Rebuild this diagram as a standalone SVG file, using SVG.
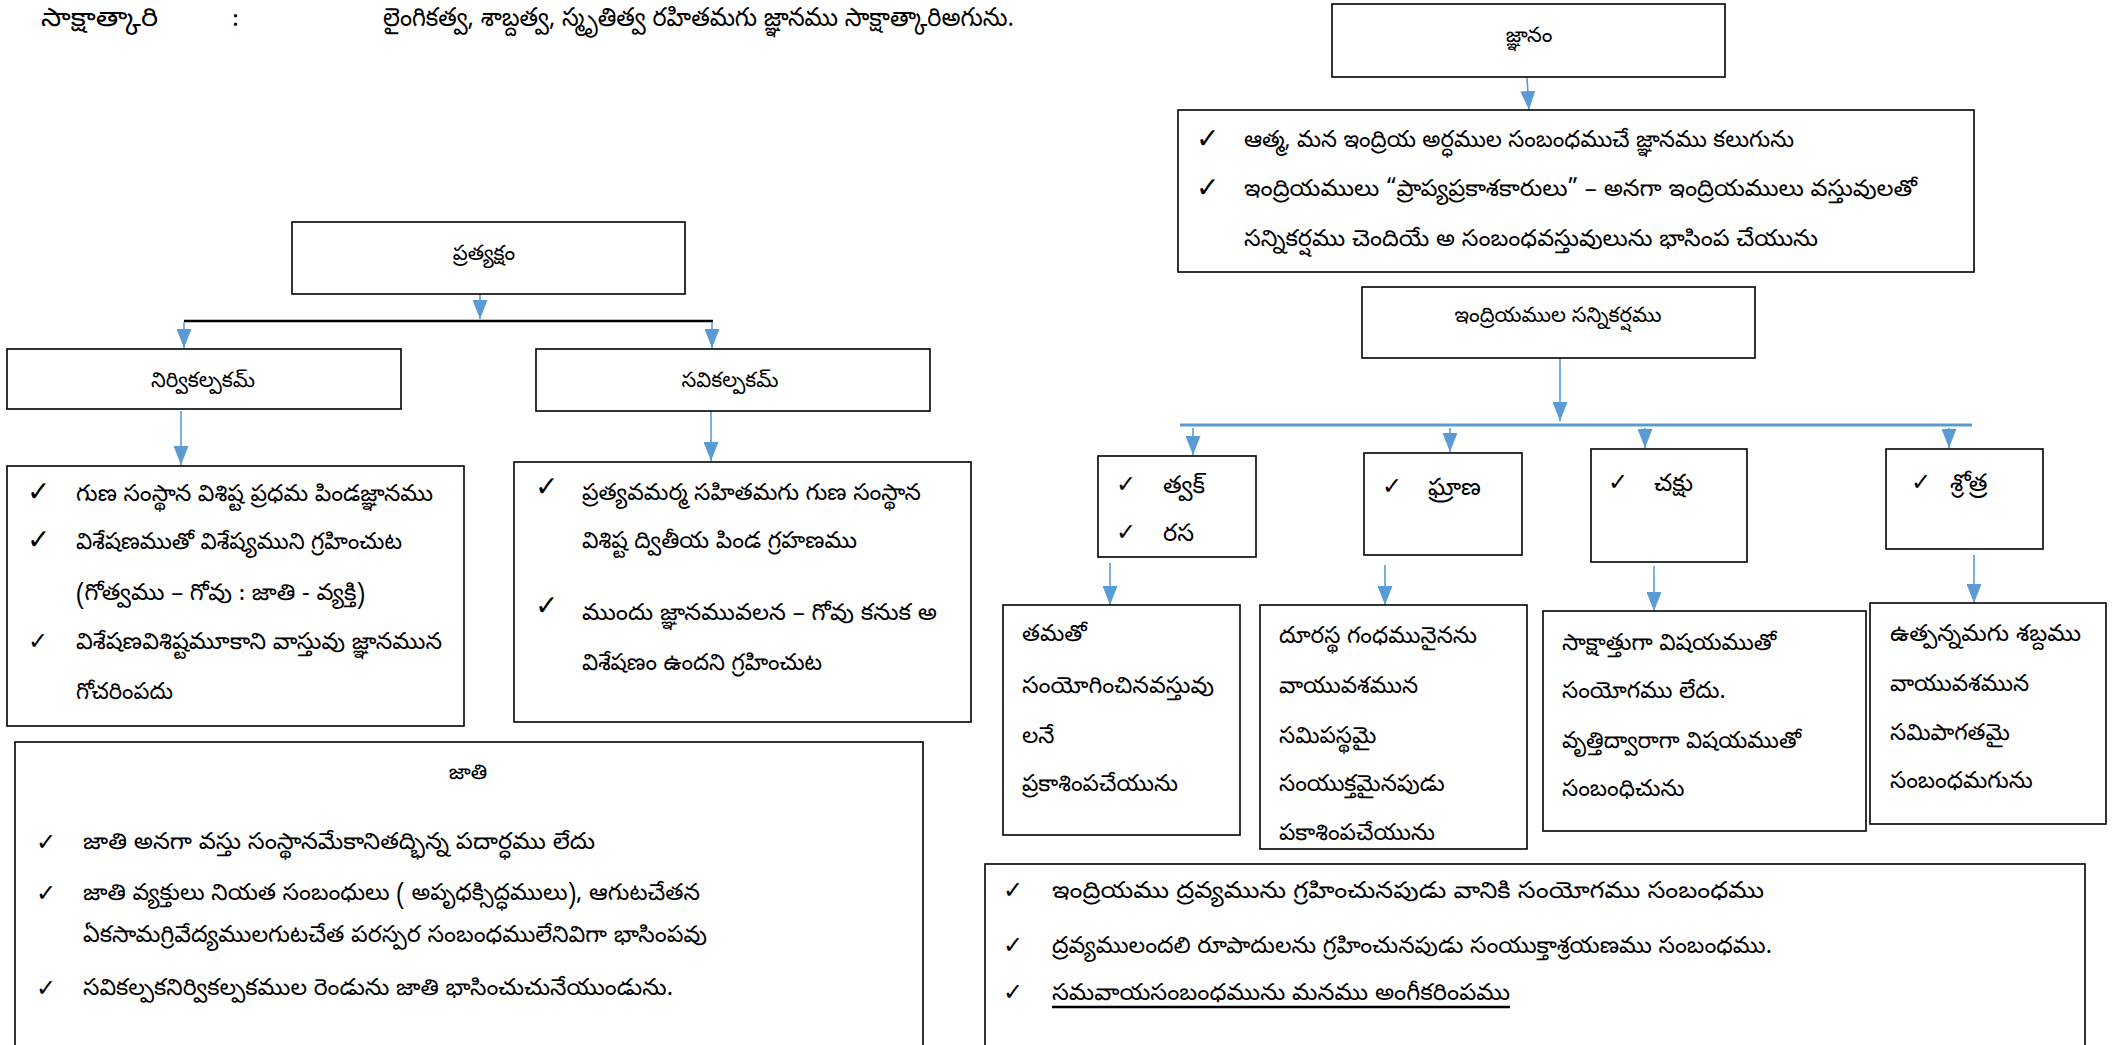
<svg xmlns="http://www.w3.org/2000/svg" width="2120" height="1045" viewBox="0 0 2120 1045">
<style>
.t{font-family:"Noto Sans Telugu","Lohit Telugu","Gautami","Pothana2000","Noto Sans","DejaVu Sans",sans-serif;font-size:23px;fill:#000}
.h{font-family:"Noto Sans Telugu","Lohit Telugu","Gautami","Pothana2000","Noto Sans","DejaVu Sans",sans-serif;font-size:21px;fill:#000;text-anchor:middle}
.big{font-size:26px}
.lbl{font-size:24px}
.c{font-family:"DejaVu Sans","Noto Sans",sans-serif;font-size:28px;font-weight:bold;fill:#000}
.cs{font-family:"DejaVu Sans","Noto Sans",sans-serif;font-size:24px;fill:#000}
.box{fill:#fff;stroke:#000;stroke-width:1.6}
.con{fill:none;stroke:#5B9BD5;stroke-width:1.6}
.bar{fill:none;stroke:#5B9BD5;stroke-width:3}
</style>
<defs>
<marker id="ah" markerUnits="userSpaceOnUse" markerWidth="19" markerHeight="15" viewBox="0 0 19 15" refX="19" refY="7.5" orient="auto">
<path d="M0,0 L19,7.5 L0,15 Z" fill="#5B9BD5"/>
</marker>
</defs>
<rect width="2120" height="1045" fill="#fff"/>

<g id="sakshatkari">
<text class="t big" x="41" y="26" textLength="117" lengthAdjust="spacingAndGlyphs">సాక్షాత్కారి</text>
<text class="t big" x="232" y="26">:</text>
<text class="t big" x="383" y="26" textLength="631" lengthAdjust="spacingAndGlyphs">లైంగికత్వ, శాబ్దత్వ, స్మృతిత్వ రహితమగు జ్ఞానము  సాక్షాత్కారిఅగును.</text>
</g>

<g id="connectors">
<line class="con" x1="1527" y1="78" x2="1529" y2="110" marker-end="url(#ah)"/>
<line class="con" x1="480" y1="294" x2="480" y2="319" marker-end="url(#ah)"/>
<line x1="184" y1="321" x2="713" y2="321" stroke="#000" stroke-width="2.5"/>
<line class="con" x1="184" y1="322" x2="184" y2="348" marker-end="url(#ah)"/>
<line class="con" x1="712" y1="322" x2="712" y2="348" marker-end="url(#ah)"/>
<line class="con" x1="181" y1="411" x2="181" y2="465" marker-end="url(#ah)"/>
<line class="con" x1="711" y1="411" x2="711" y2="461" marker-end="url(#ah)"/>
<line class="con" x1="1560" y1="358" x2="1560" y2="421" marker-end="url(#ah)"/>
<line class="bar" x1="1180" y1="425" x2="1972" y2="425"/>
<line class="con" x1="1193" y1="428" x2="1193" y2="455" marker-end="url(#ah)"/>
<line class="con" x1="1450" y1="428" x2="1450" y2="452" marker-end="url(#ah)"/>
<line class="con" x1="1645" y1="428" x2="1645" y2="448" marker-end="url(#ah)"/>
<line class="con" x1="1949" y1="428" x2="1949" y2="448" marker-end="url(#ah)"/>
<line class="con" x1="1110" y1="563" x2="1110" y2="605" marker-end="url(#ah)"/>
<line class="con" x1="1385" y1="565" x2="1385" y2="605" marker-end="url(#ah)"/>
<line class="con" x1="1654" y1="566" x2="1654" y2="611" marker-end="url(#ah)"/>
<line class="con" x1="1974" y1="555" x2="1974" y2="603" marker-end="url(#ah)"/>
</g>

<g id="jnanam">
<rect class="box" x="1332" y="4" width="393" height="73"/>
<text class="h" x="1529" y="42">జ్ఞానం</text>
</g>

<g id="jnanam-notes">
<rect class="box" x="1178" y="110" width="796" height="162"/>
<text class="c" x="1196" y="148">✓</text>
<text class="t" x="1244" y="147" textLength="550" lengthAdjust="spacingAndGlyphs">ఆత్మ, మన ఇంద్రియ అర్ధముల సంబంధముచే జ్ఞానము కలుగును</text>
<text class="c" x="1196" y="197">✓</text>
<text class="t" x="1244" y="196" textLength="673" lengthAdjust="spacingAndGlyphs">ఇంద్రియములు “ప్రాప్యప్రకాశకారులు” – అనగా ఇంద్రియములు వస్తువులతో</text>
<text class="t" x="1244" y="246" textLength="574" lengthAdjust="spacingAndGlyphs">సన్నికర్షము చెందియే అ సంబంధవస్తువులును భాసింప చేయును</text>
</g>

<g id="pratyaksham">
<rect class="box" x="292" y="222" width="393" height="72"/>
<text class="h" x="484" y="260">ప్రత్యక్షం</text>
</g>

<g id="nirvikalpakam">
<rect class="box" x="7" y="349" width="394" height="60"/>
<text class="h" x="203" y="387" font-size="23">నిర్వికల్పకమ్</text>
</g>

<g id="savikalpakam">
<rect class="box" x="536" y="349" width="394" height="62"/>
<text class="h" x="730" y="387" font-size="23">సవికల్పకమ్</text>
</g>

<g id="nirvikalpa-notes">
<rect class="box" x="7" y="466" width="457" height="260"/>
<text class="c" x="27" y="501">✓</text>
<text class="t" x="76" y="501" textLength="357" lengthAdjust="spacingAndGlyphs">గుణ సంస్థాన విశిష్ట ప్రధమ పిండజ్ఞానము</text>
<text class="c" x="27" y="549">✓</text>
<text class="t" x="76" y="549" textLength="326" lengthAdjust="spacingAndGlyphs">విశేషణముతో విశేష్యముని గ్రహించుట</text>
<text class="t" x="76" y="600" textLength="289" lengthAdjust="spacingAndGlyphs">(గోత్వము – గోవు : జాతి - వ్యక్తి)</text>
<text class="cs" x="28" y="649">✓</text>
<text class="t" x="76" y="649" textLength="366" lengthAdjust="spacingAndGlyphs">విశేషణవిశిష్టమూకాని వాస్తువు జ్ఞానమున</text>
<text class="t" x="76" y="699" textLength="97" lengthAdjust="spacingAndGlyphs">గోచరింపదు</text>
</g>

<g id="savikalpa-notes">
<rect class="box" x="514" y="462" width="457" height="260"/>
<text class="c" x="535" y="496">✓</text>
<text class="t" x="582" y="500" textLength="339" lengthAdjust="spacingAndGlyphs">ప్రత్యవమర్మ సహితమగు గుణ సంస్థాన</text>
<text class="t" x="582" y="548" textLength="275" lengthAdjust="spacingAndGlyphs">విశిష్ట ద్వితీయ పిండ గ్రహణము</text>
<text class="c" x="535" y="615">✓</text>
<text class="t" x="582" y="620" textLength="355" lengthAdjust="spacingAndGlyphs">ముందు జ్ఞానమువలన – గోవు కనుక అ</text>
<text class="t" x="582" y="670" textLength="240" lengthAdjust="spacingAndGlyphs">విశేషణం ఉందని గ్రహించుట</text>
</g>

<g id="jati">
<rect class="box" x="15" y="742" width="908" height="320"/>
<text class="h" x="468" y="779">జాతి</text>
<text class="cs" x="36" y="850">✓</text>
<text class="t" x="83" y="849" textLength="512" lengthAdjust="spacingAndGlyphs">జాతి అనగా వస్తు సంస్థానమేకానితద్భిన్న పదార్ధము లేదు</text>
<text class="cs" x="36" y="901">✓</text>
<text class="t" x="83" y="900" textLength="617" lengthAdjust="spacingAndGlyphs">జాతి వ్యక్తులు నియత సంబంధులు ( అపృధక్సిద్ధములు), ఆగుటచేతన</text>
<text class="t" x="83" y="942" textLength="624" lengthAdjust="spacingAndGlyphs">ఏకసామగ్రివేద్యములగుటచేత పరస్పర సంబంధములేనివిగా భాసింపవు</text>
<text class="cs" x="36" y="996">✓</text>
<text class="t" x="83" y="995" textLength="590" lengthAdjust="spacingAndGlyphs">సవికల్పకనిర్వికల్పకముల రెండును జాతి భాసించుచునేయుండును.</text>
</g>

<g id="sannikarsha">
<rect class="box" x="1362" y="287" width="393" height="71"/>
<text class="h" x="1558" y="322">ఇంద్రియముల సన్నికర్షము</text>
</g>

<g id="tvak-rasa">
<rect class="box" x="1098" y="456" width="158" height="101"/>
<text class="cs" x="1116" y="492">✓</text>
<text class="t lbl" x="1163" y="493">త్వక్</text>
<text class="cs" x="1116" y="540">✓</text>
<text class="t lbl" x="1163" y="541">రస</text>
</g>

<g id="ghrana">
<rect class="box" x="1364" y="453" width="158" height="102"/>
<text class="cs" x="1382" y="494">✓</text>
<text class="t lbl" x="1428" y="495">ఘ్రాణ</text>
</g>

<g id="chakshu">
<rect class="box" x="1591" y="449" width="156" height="113"/>
<text class="cs" x="1608" y="490">✓</text>
<text class="t lbl" x="1654" y="491">చక్షు</text>
</g>

<g id="shrotra">
<rect class="box" x="1886" y="449" width="157" height="100"/>
<text class="cs" x="1911" y="490">✓</text>
<text class="t lbl" x="1950" y="491">శ్రోత్ర</text>
</g>

<g id="tvak-desc">
<rect class="box" x="1003" y="605" width="237" height="230"/>
<text class="t" x="1022" y="641">తమతో</text>
<text class="t" x="1022" y="693" textLength="192" lengthAdjust="spacingAndGlyphs">సంయోగించినవస్తువు</text>
<text class="t" x="1022" y="743">లనే</text>
<text class="t" x="1022" y="791">ప్రకాశింపచేయును</text>
</g>

<g id="ghrana-desc">
<rect class="box" x="1260" y="605" width="267" height="244"/>
<text class="t" x="1279" y="643">దూరస్థ గంధమునైనను</text>
<text class="t" x="1279" y="693">వాయువశమున</text>
<text class="t" x="1279" y="743">సమిపస్థమై</text>
<text class="t" x="1279" y="791">సంయుక్తమైనపుడు</text>
<text class="t" x="1279" y="840">పకాశింపచేయును</text>
</g>

<g id="chakshu-desc">
<rect class="box" x="1543" y="611" width="323" height="220"/>
<text class="t" x="1562" y="650">సాక్షాత్తుగా విషయముతో</text>
<text class="t" x="1562" y="698">సంయోగము లేదు.</text>
<text class="t" x="1562" y="748" textLength="239" lengthAdjust="spacingAndGlyphs">వృత్తిద్వారాగా విషయముతో</text>
<text class="t" x="1562" y="796">సంబంధిచును</text>
</g>

<g id="shrotra-desc">
<rect class="box" x="1870" y="603" width="236" height="221"/>
<text class="t" x="1890" y="641" textLength="191" lengthAdjust="spacingAndGlyphs">ఉత్పన్నమగు శబ్దము</text>
<text class="t" x="1890" y="691">వాయువశమున</text>
<text class="t" x="1890" y="740">సమిపాగతమై</text>
<text class="t" x="1890" y="788">సంబంధమగును</text>
</g>

<g id="sambandha-notes">
<rect class="box" x="985" y="864" width="1100" height="200"/>
<text class="cs" x="1003" y="898">✓</text>
<text class="t" x="1052" y="898" textLength="712" lengthAdjust="spacingAndGlyphs">ఇంద్రియము ద్రవ్యమును గ్రహించునపుడు వానికి సంయోగము సంబంధము</text>
<text class="cs" x="1003" y="953">✓</text>
<text class="t" x="1052" y="953" textLength="720" lengthAdjust="spacingAndGlyphs">ద్రవ్యములందలి రూపాదులను గ్రహించునపుడు సంయుక్తాశ్రయణము సంబంధము.</text>
<text class="cs" x="1003" y="1000">✓</text>
<text class="t" x="1052" y="1000" textLength="458" lengthAdjust="spacingAndGlyphs"> సమవాయసంబంధమును మనము అంగీకరింపము</text>
<line x1="1052" y1="1007" x2="1510" y2="1007" stroke="#000" stroke-width="2.5"/>
</g>
</svg>
